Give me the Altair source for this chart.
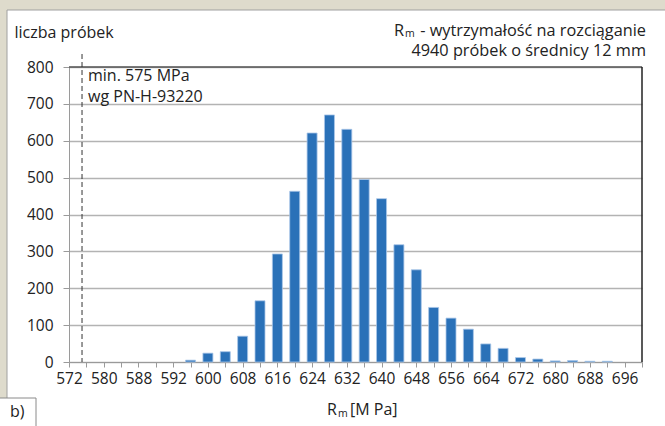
import altair as alt
import pandas as pd

# bin centres [MPa] and counts
bins = [572, 576, 580, 584, 588, 592, 596, 600, 604, 608, 612, 616, 620, 624, 628,
        632, 636, 640, 644, 648, 652, 656, 660, 664, 668, 672, 676, 680, 684, 688,
        692, 696, 700, 704]
counts = [0, 0, 0, 0, 0, 0, 0, 5, 24, 28, 70, 166, 293, 463, 621,
          670, 631, 495, 443, 318, 250, 148, 119, 89, 49, 37, 12, 8, 3, 4,
          2, 2, 0, 0]
tick_labels = ["572", "580", "588", "592", "600", "608", "616", "624", "632",
               "640", "648", "656", "664", "672", "680", "688", "696"]
y_ticks = [0, 100, 200, 300, 400, 500, 600, 700, 800]
min_value = [575]
note_lines = ["min. 575 MPa", "wg PN-H-93220"]
note_y = [776, 719]

W, H = 573, 295
L, T = 69, 67
FONT = "Open Sans"
FS = 16
HFS = 16.3

df = pd.DataFrame({"rm": bins, "n": counts})

arr = "[" + ",".join(f"'{s}'" for s in tick_labels) + "]"
label_expr = (f"((datum.value-572)%8==0 && (datum.value-572)/8 < {len(tick_labels)}) "
              f"? {arr}[(datum.value-572)/8] : ''")

xscale = alt.Scale(domain=[572, 704], nice=False, zero=False, padding=0)
yscale = alt.Scale(domain=[0, 800], nice=False, padding=0)

x_axis = alt.Axis(values=bins, labelExpr=label_expr, title=None, grid=False,
                  domainColor="#9a9a9a", tickColor="#9a9a9a", tickSize=5,
                  labelFontSize=15.5, labelColor="#222", labelPadding=4,
                  labelFont=FONT, labelOverlap=False, labelFlush=False)
y_axis = alt.Axis(values=y_ticks, title="liczba próbek", titleAngle=0,
                  titleX=-55, titleY=-35, titleAlign="left",
                  titleBaseline="middle", titleFont=FONT, titleFontSize=FS,
                  titleFontWeight="normal", titleColor="#222",
                  grid=True, gridColor="#b3b3b3", gridWidth=1.5,
                  domainColor="#9a9a9a", tickColor="#9a9a9a", tickSize=6,
                  labelFontSize=15.5, labelColor="#222", labelPadding=10,
                  labelFont=FONT, labelOverlap=False, labelFlush=False)

bars = alt.Chart(df).transform_filter("datum.n > 0").mark_bar(
    size=10, color="#2a71b8", stroke="#a9c7e9", strokeWidth=0.8
).encode(
    x=alt.X("rm:Q", scale=xscale, axis=x_axis),
    y=alt.Y("n:Q", scale=yscale, axis=y_axis),
)

top_border = alt.Chart(pd.DataFrame({"v": [800]})).mark_rule(
    color="#555555", strokeWidth=1.5).encode(y=alt.Y("v:Q", scale=yscale, axis=y_axis))
right_border = alt.Chart(pd.DataFrame({"v": [704]})).mark_rule(
    color="#222222", strokeWidth=1.5).encode(x=alt.X("v:Q", scale=xscale, axis=x_axis))

min_rule = alt.Chart(pd.DataFrame({"v": min_value})).mark_rule(
    color="#333333", strokeDash=[5, 3], strokeWidth=1).encode(
    x=alt.X("v:Q", scale=xscale, axis=x_axis), y=alt.value(-13), y2=alt.value(H))

notes = alt.Chart(pd.DataFrame({"v": [min_value[0]] * 2, "y": note_y, "t": note_lines})).mark_text(
    align="left", baseline="middle", dx=6, fontSize=FS, font=FONT, color="#222").encode(
    x=alt.X("v:Q", scale=xscale, axis=x_axis), y=alt.Y("y:Q", scale=yscale, axis=y_axis),
    text="t:N")


def txt(s, x, y, size=FS, align="left"):
    return alt.Chart(pd.DataFrame({"t": [s]})).mark_text(
        align=align, baseline="middle", fontSize=size, font=FONT, color="#222").encode(
        x=alt.value(x), y=alt.value(y), text="t:N")


def box(x, x2, y, y2, fill, stroke=None):
    kw = dict(fill=fill)
    if stroke:
        kw.update(stroke=stroke, strokeWidth=1)
    return alt.Chart(pd.DataFrame({"a": [0]})).mark_rect(**kw).encode(
        x=alt.value(x), x2=alt.value(x2), y=alt.value(y), y2=alt.value(y2))


frame_top = box(-L, 665 - L, -T, 10 - T, "#dedbcc")
frame_left = box(-L, 7 - L, -T, 426 - T, "#dedbcc")
edge_top = alt.Chart(pd.DataFrame({"a": [0]})).mark_rule(color="#a0a0a0").encode(
    x=alt.value(7 - L), x2=alt.value(665 - L), y=alt.value(10 - T))
edge_left = alt.Chart(pd.DataFrame({"a": [0]})).mark_rule(color="#a0a0a0").encode(
    x=alt.value(7 - L), y=alt.value(10 - T), y2=alt.value(426 - T))

b_box = box(-L - 2, 36 - L, 398 - T, 430 - T, "#ffffff", "#8a8a8a")
b_txt = txt("b)", 10 - L, 412 - T, 16)

# top-right header
h1_R = txt("R", 394 - L, 31 - T, HFS)
h1_m = txt("m", 405 - L, 34 - T, 10.5)
h1_rest = txt("- wytrzymałość na rozciąganie", 646 - L, 31 - T, HFS, align="right")
h2 = txt("4940 próbek o średnicy 12 mm", 646 - L, 51 - T, HFS, align="right")

# x-axis title
xt_R = txt("R", 327 - L, 410 - T, FS)
xt_m = txt("m", 338 - L, 414 - T, 10.5)
xt_rest = txt("[M Pa]", 350 - L, 410 - T, FS)

chart = alt.layer(
    frame_top, frame_left, edge_top, edge_left,
    bars, top_border, right_border, min_rule, notes,
    h1_R, h1_m, h1_rest, h2, xt_R, xt_m, xt_rest, b_box, b_txt,
).properties(
    width=W, height=H,
    autosize=alt.AutoSizeParams(type="none"),
    padding={"left": L, "top": T, "right": 665 - L - W, "bottom": 426 - T - H},
    background="#ffffff",
).configure_view(stroke=None)

chart.save("out.html", embed_options={"renderer": "svg", "actions": False})
